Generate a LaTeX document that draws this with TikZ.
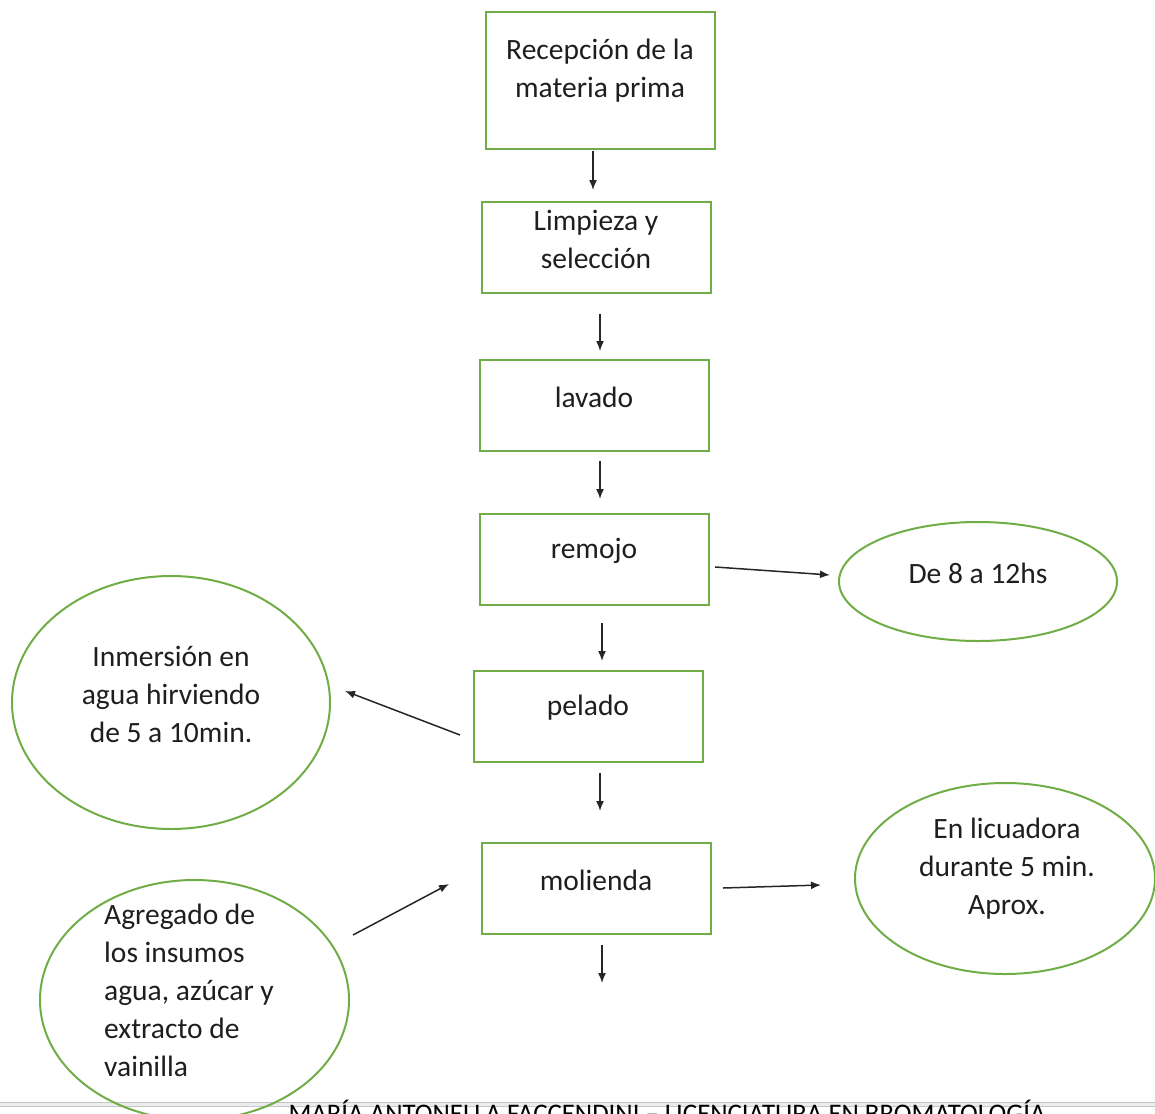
\documentclass[tikz,border=0pt]{standalone}
\usepackage{fontspec}
\setmainfont{Carlito}
\usetikzlibrary{arrows.meta,shapes.geometric}
\definecolor{grn}{RGB}{112,173,71}
\definecolor{txt}{RGB}{30,30,30}
\begin{document}
\begin{tikzpicture}[x=1pt,y=-1pt,
  box/.style={draw=grn, line width=2pt, minimum width=229pt, inner sep=0pt},
  oval/.style={draw=grn, line width=2pt, ellipse, inner sep=0pt},
  lbl/.style={font=\fontsize{29.5}{38}\selectfont, text=txt, align=center, inner sep=0pt},
  arr/.style={draw=black!85, line width=1.5pt, -{Latex[length=10pt,width=8pt]}}]
\useasboundingbox (0,0) rectangle (1155,1113);
% footer
\fill[gray!15] (0,1102) rectangle (1155,1107);
\draw[gray!45, line width=1.2pt] (0,1102.5) -- (1155,1102.5);
\draw[gray!45, line width=1.2pt] (0,1106.5) -- (1155,1106.5);
\node[font=\fontsize{26.8}{30}\selectfont, text=black, anchor=base, inner sep=0pt] (foot) at (667,1122) {MARÍA ANTONELLA FACCENDINI – LICENCIATURA EN BROMATOLOGÍA};
% boxes
\node[box, minimum height=137pt] (b1) at (600.5,80.5) {};
\node[box, minimum height=91pt] (b2) at (596.5,247.5) {};
\node[box, minimum height=91pt] (b3) at (594.5,405.5) {};
\node[box, minimum height=91pt] (b4) at (594.5,559.5) {};
\node[box, minimum height=91pt] (b5) at (588.5,716.5) {};
\node[box, minimum height=91pt] (b6) at (596.5,888.5) {};
% ellipses
\node[oval, minimum width=278pt, minimum height=119pt] (e1) at (978,581.5) {};
\node[oval, minimum width=318pt, minimum height=253pt] (e2) at (171,702.5) {};
\node[oval, minimum width=300pt, minimum height=191pt] (e3) at (1005,878.5) {};
\node[oval, minimum width=309pt, minimum height=240pt] (e4) at (194.5,1000) {};
% texts
\node[lbl] (t1) at (600,71) {Recepción de la\\materia prima};
\node[lbl] (t2) at (596,239) {Limpieza y\\selección};
\node[lbl] (t3) at (594,397) {lavado};
\node[lbl] (t4) at (594,551) {remojo};
\node[lbl] (t5) at (588,708) {pelado};
\node[lbl] (t6) at (596,880) {molienda};
\node[lbl] (te1) at (978,573) {De 8 a 12hs};
\node[lbl] (te2) at (171,694) {Inmersión en\\agua hirviendo\\de 5 a 10min.};
\node[lbl] (te3) at (1007,869) {En licuadora\\durante 5 min.\\Aprox.};
\node[lbl, align=left, anchor=west] (te4) at (104,990) {Agregado de\\los insumos\\agua, azúcar y\\extracto de\\vainilla};
% vertical arrows
\coordinate (end) at (602,983);
\draw[arr] ([shift={(-7.5,1)}]b1.south) -- ([shift={(-3.5,-11)}]b2.north);
\draw[arr] ([shift={(3.5,20)}]b2.south) -- ([shift={(5.5,-8)}]b3.north);
\draw[arr] ([shift={(5.5,9)}]b3.south) -- ([shift={(5.5,-14)}]b4.north);
\draw[arr] ([shift={(7.5,17)}]b4.south) -- ([shift={(13.5,-9)}]b5.north);
\draw[arr] ([shift={(11.5,10)}]b5.south) -- ([shift={(3.5,-31)}]b6.north);
\draw[arr] ([shift={(5.5,10)}]b6.south) -- (end);
% side arrows
\draw[arr] ([shift={(5,7.5)}]b4.east) -- ([shift={(-8,-6.5)}]e1.west);
\draw[arr] ([shift={(-13,18.5)}]b5.west) -- ([shift={(14,-11.5)}]e2.east);
\draw[arr] ([shift={(3,-65)}]e4.east) -- ([shift={(-32,-4.5)}]b6.west);
\draw[arr] ([shift={(11,-0.5)}]b6.east) -- ([shift={(-33,6.5)}]e3.west);
\end{tikzpicture}
\end{document}
